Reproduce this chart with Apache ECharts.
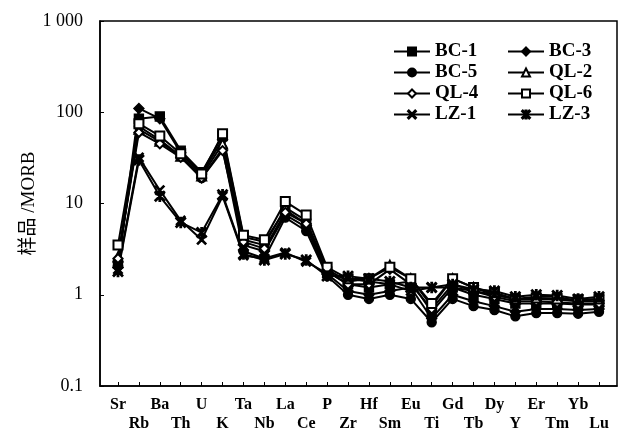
<!DOCTYPE html>
<html>
<head>
<meta charset="utf-8">
<script src="https://cdn.jsdelivr.net/npm/echarts@6/dist/echarts.min.js"></script>
<style>
  html, body { margin: 0; padding: 0; background: #fff; }
  #main { width: 621px; height: 433px; }
</style>
</head>
<body>
<div id="main"></div>
<script>
// 元素（蛛网图横轴）
var elements = ['Sr', 'Rb', 'Ba', 'Th', 'U', 'K', 'Ta', 'Nb', 'La', 'Ce', 'P', 'Zr',
                'Hf', 'Sm', 'Eu', 'Ti', 'Gd', 'Tb', 'Dy', 'Y', 'Er', 'Tm', 'Yb', 'Lu'];

// 样品/MORB 值
var BC1 = [2.2, 85, 90, 38, 22, 55, 4.3, 3.8, 8.5, 6.0, 1.8, 1.3, 1.2, 1.3, 1.4, 0.65, 1.2, 1.0, 0.9, 0.8, 0.8, 0.8, 0.78, 0.78];
var BC3 = [2.0, 110, 85, 36, 21, 50, 3.5, 3.0, 7.5, 5.5, 1.7, 1.1, 1.0, 1.1, 1.2, 0.55, 1.0, 0.85, 0.75, 0.65, 0.7, 0.7, 0.68, 0.7];
var BC5 = [2.3, 70, 50, 33, 19, 40, 3.0, 2.5, 7.0, 5.0, 1.6, 1.0, 0.9, 1.0, 0.9, 0.5, 0.9, 0.75, 0.68, 0.58, 0.63, 0.63, 0.62, 0.65];
var QL2 = [2.6, 65, 48, 33, 20, 45, 4.0, 3.5, 9.0, 6.5, 1.9, 1.4, 1.5, 2.1, 1.5, 0.75, 1.5, 1.2, 1.0, 0.9, 0.9, 0.88, 0.85, 0.85];
var QL4 = [2.5, 60, 45, 32, 19, 38, 3.8, 3.2, 8.0, 6.0, 1.8, 1.3, 1.3, 1.9, 1.3, 0.7, 1.3, 1.1, 0.95, 0.85, 0.85, 0.82, 0.8, 0.8];
var QL6 = [3.5, 75, 55, 35, 21, 58, 4.5, 4.0, 10.5, 7.5, 2.0, 1.5, 1.5, 2.0, 1.5, 0.8, 1.5, 1.2, 1.05, 0.9, 0.92, 0.9, 0.88, 0.9];
var LZ1 = [1.9, 32, 14, 6.5, 4.0, 12, 2.7, 2.5, 2.9, 2.3, 1.7, 1.5, 1.4, 1.3, 1.1, 1.2, 1.2, 1.1, 1.0, 0.9, 0.95, 0.95, 0.85, 0.9];
var LZ3 = [1.8, 30, 12, 6.2, 4.8, 12.5, 2.8, 2.4, 2.8, 2.4, 1.6, 1.6, 1.5, 1.4, 1.2, 1.2, 1.3, 1.15, 1.1, 0.95, 1.0, 0.98, 0.9, 0.95];

var xSymbol = 'path://M0 1L1 0L10 9L9 10Z M9 0L10 1L1 10L0 9Z';
var starSymbol = 'path://M0 1L1 0L10 9L9 10Z M9 0L10 1L1 10L0 9Z M4.3 0L5.7 0L5.7 10L4.3 10Z';

var serif = '"Liberation Serif", "Times New Roman", serif';

function mkSeries(name, vals, symbol, size) {
    return {
        name: name,
        type: 'line',
        data: vals.map(function (v, i) { return [i, v]; }),
        symbol: symbol,
        symbolSize: size,
        lineStyle: { color: '#000', width: 2 },
        itemStyle: { color: '#000', borderColor: '#000', borderWidth: 1.4 },
        z: 3
    };
}

var chart = echarts.init(document.getElementById('main'));

var idx = elements.map(function (e, i) { return i; });

var legendText = { color: '#000', fontFamily: serif, fontWeight: 'bold', fontSize: 19 };

var option = {
    animation: false,
    backgroundColor: '#fff',
    grid: {
        left: 100, top: 21, right: 4, bottom: 45,
        show: true, borderColor: '#000', borderWidth: 1.5
    },
    xAxis: {
        type: 'value',
        min: -0.86,
        max: 23.86,
        axisLine: { show: true, onZero: false, lineStyle: { color: '#000', width: 1.5 } },
        axisTick: { show: true, inside: true, length: 4, customValues: idx, lineStyle: { color: '#000' } },
        splitLine: { show: false },
        axisLabel: {
            customValues: idx,
            margin: 9,
            color: '#000',
            fontFamily: serif,
            fontWeight: 'bold',
            fontSize: 16,
            lineHeight: 19,
            formatter: function (v) {
                var i = Math.round(v);
                return i % 2 === 0 ? elements[i] : '\n' + elements[i];
            }
        }
    },
    yAxis: {
        type: 'log',
        logBase: 10,
        min: 0.1,
        max: 1000,
        name: '样品 /MORB',
        nameLocation: 'middle',
        nameGap: 61,
        nameMoveOverlap: false,
        nameTextStyle: { color: '#000', fontSize: 19, fontFamily: '"Liberation Serif", "Noto Sans CJK SC", serif' },
        axisLine: { show: true, onZero: false, lineStyle: { color: '#000', width: 1.5 } },
        axisTick: { show: true, inside: true, length: 4, lineStyle: { color: '#000' } },
        splitLine: { show: false },
        axisLabel: {
            margin: 17,
            color: '#000',
            fontFamily: serif,
            fontSize: 18,
            formatter: function (v) {
                return v === 1000 ? '1 000' : String(v);
            }
        }
    },
    legend: [{
        orient: 'vertical',
        left: 388, top: 37,
        itemWidth: 36, itemHeight: 10, itemGap: 2,
        textStyle: legendText,
        data: ['BC-1', 'BC-5', 'QL-4', 'LZ-1']
    }, {
        orient: 'vertical',
        left: 502, top: 37,
        itemWidth: 36, itemHeight: 10, itemGap: 2,
        textStyle: legendText,
        data: ['BC-3', 'QL-2', 'QL-6', 'LZ-3']
    }],
    series: [
        mkSeries('BC-1', BC1, 'rect', 9),
        mkSeries('BC-3', BC3, 'diamond', 10),
        mkSeries('BC-5', BC5, 'circle', 9),
        mkSeries('QL-2', QL2, 'emptyTriangle', 9),
        mkSeries('QL-4', QL4, 'emptyDiamond', 9),
        mkSeries('QL-6', QL6, 'emptyRect', 9),
        mkSeries('LZ-1', LZ1, xSymbol, 9),
        mkSeries('LZ-3', LZ3, starSymbol, 10)
    ]
};

chart.setOption(option);
</script>
</body>
</html>
